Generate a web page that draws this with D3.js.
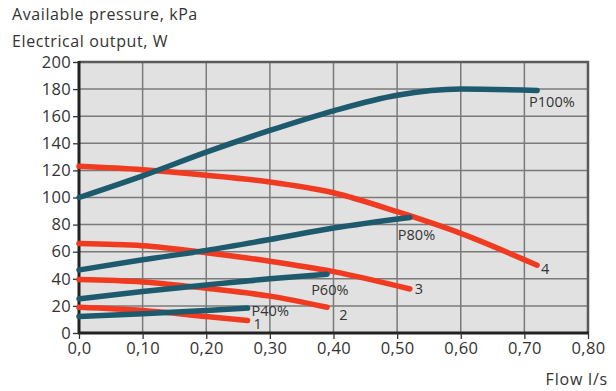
<!DOCTYPE html>
<html>
<head>
<meta charset="utf-8">
<script src="https://cdn.jsdelivr.net/npm/d3@7"></script>
<style>
  html, body { margin: 0; padding: 0; background: #fff; }
  svg { display: block; }
  text { font-family: 'Open Sans', sans-serif; fill: #333; }
</style>
</head>
<body>
<div id="chart"></div>
<script>
'use strict';

// Axis ticks
const xTicks = [0, 0.1, 0.2, 0.3, 0.4, 0.5, 0.6, 0.7, 0.8];
const xTickLabels = ['0,0', '0,10', '0,20', '0,30', '0,40', '0,50', '0,60', '0,70', '0,80'];
const yTicks = [0, 20, 40, 60, 80, 100, 120, 140, 160, 180, 200];

// Electrical output curves (W)
const p100Flow = [0, 0.1, 0.2, 0.3, 0.4, 0.5, 0.6, 0.72];
const p100Vals = [100, 116, 133.5, 149.5, 164, 175.5, 180, 179];
const p80Flow = [0, 0.1, 0.2, 0.3, 0.4, 0.52];
const p80Vals = [46.5, 54, 61, 69, 77.5, 85.3];
const p60Flow = [0, 0.1, 0.2, 0.3, 0.39];
const p60Vals = [25.2, 30.6, 35.5, 40, 43.4];
const p40Flow = [0, 0.1, 0.2, 0.265];
const p40Vals = [12.2, 14.2, 16.6, 18.4];

// Available pressure curves (kPa)
const c4Flow = [0, 0.1, 0.2, 0.3, 0.4, 0.5, 0.6, 0.72];
const c4Vals = [123, 120.5, 116.5, 111.5, 103.5, 89.5, 73.5, 50];
const c3Flow = [0, 0.1, 0.2, 0.3, 0.4, 0.52];
const c3Vals = [66, 64.4, 59.3, 53, 45.3, 32.5];
const c2Flow = [0, 0.1, 0.2, 0.3, 0.39];
const c2Vals = [39.5, 37.7, 33, 27.2, 19];
const c1Flow = [0, 0.1, 0.2, 0.265];
const c1Vals = [19, 16.6, 12.2, 9.3];

const W = 616, H = 391;
const m = { left: 79, right: 28, top: 62, bottom: 58 };
const RED = '#f03b20', TEAL = '#1e5a6e';

const svg = d3.select('#chart').append('svg')
    .attr('width', W)
    .attr('height', H);

const x = d3.scaleLinear().domain([0, 0.8]).range([m.left, W - m.right]);
const y = d3.scaleLinear().domain([0, 200]).range([H - m.bottom, m.top]);

// Plot background
svg.append('rect')
    .attr('x', x(0)).attr('y', y(200))
    .attr('width', x(0.8) - x(0)).attr('height', y(0) - y(200))
    .attr('fill', '#e1e1e1');

// Grid
svg.append('g').selectAll('line')
    .data(xTicks.slice(1, -1))
    .join('line')
    .attr('x1', d => x(d)).attr('x2', d => x(d))
    .attr('y1', y(0)).attr('y2', y(200))
    .attr('stroke', '#7a7a7a').attr('stroke-width', 1.5);

svg.append('g').selectAll('line')
    .data(yTicks.slice(1, -1))
    .join('line')
    .attr('x1', x(0)).attr('x2', x(0.8))
    .attr('y1', d => y(d)).attr('y2', d => y(d))
    .attr('stroke', '#7a7a7a').attr('stroke-width', 1.5);

// Frame: top and right lighter
svg.append('path')
    .attr('d', `M${x(0)},${y(200)}H${x(0.8)}V${y(0)}`)
    .attr('fill', 'none').attr('stroke', '#5a5a5a').attr('stroke-width', 2.5);

// Axes
const yAxis = svg.append('g')
    .attr('transform', `translate(${x(0)},0)`)
    .call(d3.axisLeft(y).tickValues(yTicks).tickSize(6).tickPadding(2));
const xAxis = svg.append('g')
    .attr('transform', `translate(0,${y(0)})`)
    .call(d3.axisBottom(x).tickValues(xTicks).tickFormat((d, i) => xTickLabels[i]).tickSize(6).tickPadding(3));

[yAxis, xAxis].forEach(g => {
    g.select('.domain').attr('stroke', '#222').attr('stroke-width', 3);
    g.selectAll('.tick line').attr('stroke', '#333').attr('stroke-width', 1.3);
    g.selectAll('.tick text')
        .attr('fill', '#333')
        .attr('font-family', "'Open Sans', sans-serif")
        .attr('font-size', 16.5)
        .attr('letter-spacing', 0.3);
});
yAxis.select('.domain').attr('d', `M0,${y(0) + 1}V${y(200) - 1}`);
xAxis.select('.domain').attr('d', `M${x(0) - 1},0H${x(0.8) + 1}`);

// Curves
const line = d3.line()
    .x(d => x(d[0]))
    .y(d => y(d[1]))
    .curve(d3.curveMonotoneX);

const curves = [
    { flow: c4Flow, vals: c4Vals, color: RED, label: '4', dx: 4, dy: 9 },
    { flow: c3Flow, vals: c3Vals, color: RED, label: '3', dx: 5, dy: 5 },
    { flow: c2Flow, vals: c2Vals, color: RED, label: '2', dx: 12, dy: 13 },
    { flow: c1Flow, vals: c1Vals, color: RED, label: '1', dx: 6, dy: 9 },
    { flow: p100Flow, vals: p100Vals, color: TEAL, label: 'P100%', dx: -8, dy: 17 },
    { flow: p80Flow, vals: p80Vals, color: TEAL, label: 'P80%', dx: -12, dy: 23 },
    { flow: p60Flow, vals: p60Vals, color: TEAL, label: 'P60%', dx: -16, dy: 21 },
    { flow: p40Flow, vals: p40Vals, color: TEAL, label: 'P40%', dx: 4, dy: 8 }
];

svg.append('g').selectAll('path')
    .data(curves)
    .join('path')
    .attr('d', c => line(c.flow.map((f, i) => [f, c.vals[i]])))
    .attr('fill', 'none')
    .attr('stroke', c => c.color)
    .attr('stroke-width', 5.5)
    .attr('stroke-linecap', 'round');

// Curve labels at line ends
svg.append('g').selectAll('text')
    .data(curves)
    .join('text')
    .attr('x', c => x(c.flow[c.flow.length - 1]) + c.dx)
    .attr('y', c => y(c.vals[c.vals.length - 1]) + c.dy)
    .attr('font-size', 14.5)
    .attr('fill', '#3a3a3a')
    .text(c => c.label);

// Titles
svg.append('text')
    .attr('x', 12).attr('y', 20)
    .attr('font-size', 16)
    .attr('letter-spacing', 0.6)
    .text('Available pressure, kPa');
svg.append('text')
    .attr('x', 12).attr('y', 47)
    .attr('font-size', 16)
    .attr('letter-spacing', 0.6)
    .text('Electrical output, W');
svg.append('text')
    .attr('x', 608).attr('y', 385)
    .attr('text-anchor', 'end')
    .attr('font-size', 16)
    .attr('letter-spacing', 0.8)
    .text('Flow l/s');
</script>
</body>
</html>
